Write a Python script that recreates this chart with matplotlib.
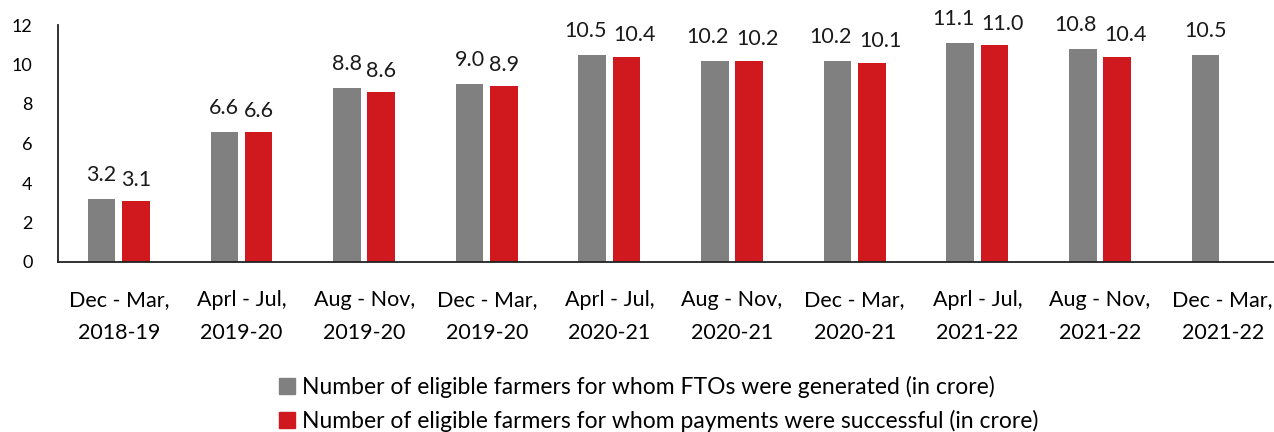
import matplotlib.pyplot as plt
import numpy as np
from matplotlib.patches import Patch

plt.rcParams['font.family'] = ['Lato', 'DejaVu Sans']

# x categories
periods = ["Dec - Mar,\n2018-19", "Aprl - Jul,\n2019-20", "Aug - Nov,\n2019-20",
           "Dec - Mar,\n2019-20", "Aprl - Jul,\n2020-21", "Aug - Nov,\n2020-21",
           "Dec - Mar,\n2020-21", "Aprl - Jul,\n2021-22", "Aug - Nov,\n2021-22",
           "Dec - Mar,\n2021-22"]

# values in crore (last period has no payment figure)
fto_generated = [3.2, 6.6, 8.8, 9.0, 10.5, 10.2, 10.2, 11.1, 10.8, 10.5]
payments_ok   = [3.1, 6.6, 8.6, 8.9, 10.4, 10.2, 10.1, 11.0, 10.4, None]

gray = '#808080'
red = '#d0181f'

fig = plt.figure(figsize=(12.74, 4.32), dpi=100)
ax = fig.add_axes([57.5 / 1274, 1 - 262 / 432, (1284 - 57.5) / 1274, (262 - 25) / 432])

xs = np.arange(len(periods))
w = 0.225
off = 0.14

g_bars = ax.bar(xs - off, fto_generated, w, color=gray)
r_x = [x + off for x, v in zip(xs, payments_ok) if v is not None]
r_v = [v for v in payments_ok if v is not None]
r_bars = ax.bar(r_x, r_v, w, color=red)

# labels; wide pairs get nudged apart so they do not collide
for i, b in enumerate(g_bars):
    v = b.get_height()
    dx = -5 if (v >= 10 and payments_ok[i] is not None) else 0
    ax.annotate(f"{v:.1f}", (b.get_x() + b.get_width() / 2, v),
                xytext=(dx, 10), textcoords='offset points', ha='center', va='bottom',
                fontsize=15.5, color='#1a1a1a')
for b in r_bars:
    v = b.get_height()
    dx = 6 if v >= 10 else 0
    ax.annotate(f"{v:.1f}", (b.get_x() + b.get_width() / 2, v),
                xytext=(dx, 8), textcoords='offset points', ha='center', va='bottom',
                fontsize=15.5, color='#1a1a1a')

ax.set_xlim(-0.5, len(periods) - 0.5)
ax.set_ylim(0, 12)
ax.set_yticks(range(0, 13, 2))
ax.set_xticks(xs)
ax.set_xticklabels(periods, fontsize=15.5)
for lbl in ax.get_xticklabels():
    lbl.set_linespacing(1.85)
ax.tick_params(axis='y', length=0, pad=18, labelsize=13)
ax.tick_params(axis='x', length=0, pad=20)
for s in ('top', 'right'):
    ax.spines[s].set_visible(False)
for s in ('left', 'bottom'):
    ax.spines[s].set_linewidth(1.3)
    ax.spines[s].set_color('#222222')

handles = [Patch(color=gray, label="Number of eligible farmers for whom FTOs were generated (in crore)"),
           Patch(color=red, label="Number of eligible farmers for whom payments were successful (in crore)")]
fig.legend(handles=handles, loc='center', bbox_to_anchor=(659 / 1274, 1 - 404 / 432), frameon=False,
           fontsize=16.5, handlelength=0.7, handleheight=0.7, handletextpad=0.3,
           labelspacing=0.5)

fig.savefig('out.png', dpi=100)
